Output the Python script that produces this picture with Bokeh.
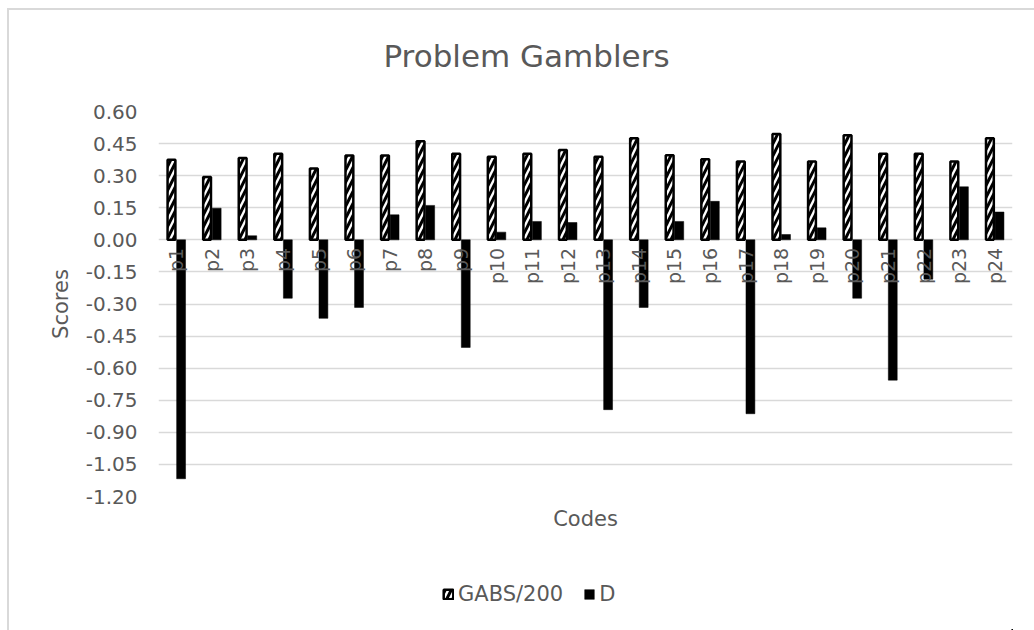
from math import pi

from bokeh.core.properties import value
from bokeh.embed import file_html
from bokeh.layouts import column
from bokeh.models import (ColumnDataSource, FixedTicker, Label, Legend, LegendItem,
                          NumeralTickFormatter, Range1d)
from bokeh.plotting import figure
from bokeh.resources import INLINE
from bokeh.transform import dodge

# Participant codes and their scores
codes = ["p1", "p2", "p3", "p4", "p5", "p6", "p7", "p8", "p9", "p10", "p11", "p12",
         "p13", "p14", "p15", "p16", "p17", "p18", "p19", "p20", "p21", "p22", "p23", "p24"]
gabs_200 = [0.375, 0.294, 0.383, 0.402, 0.333, 0.394, 0.394, 0.461, 0.402, 0.389, 0.402, 0.420,
            0.389, 0.475, 0.395, 0.377, 0.366, 0.495, 0.366, 0.489, 0.402, 0.402, 0.366, 0.475]
d_scores = [-1.117, 0.148, 0.019, -0.273, -0.367, -0.316, 0.117, 0.161, -0.503, 0.036, 0.086, 0.081,
            -0.794, -0.316, 0.086, 0.180, -0.813, 0.025, 0.056, -0.273, -0.656, -0.184, 0.248, 0.130]
y_ticks = [-1.20, -1.05, -0.90, -0.75, -0.60, -0.45, -0.30, -0.15, 0.00, 0.15, 0.30, 0.45, 0.60]

FONT = "DejaVu Sans"
GREY = "#595959"
GRID = "#d9d9d9"
W = 1025

GABS_STYLE = dict(fill_color="white", line_color="black", line_width=2.5,
                  hatch_pattern="/", hatch_color="black", hatch_weight=3, hatch_scale=12)
D_STYLE = dict(fill_color="black", line_color="black", line_width=0.5)

source = ColumnDataSource(dict(code=codes, gabs=gabs_200, d=d_scores))


def strip(height, y_range):
    """A bare figure used as a band of text above or below the chart."""
    f = figure(width=W, height=height, x_range=codes, y_range=y_range,
               output_backend="svg", toolbar_location=None, min_border=0)
    f.axis.visible = False
    f.grid.visible = False
    f.outline_line_color = None
    f.border_fill_color = "white"
    f.background_fill_color = "white"
    return f


# ---- title band -------------------------------------------------------------
top = strip(81, Range1d(0, 1))
top.add_layout(Label(x=368, y=36, x_units="screen", y_units="screen", text="Problem Gamblers",
                     text_align="center", text_baseline="middle", text_font=FONT,
                     text_font_size="31px", text_color=GREY))

# ---- main chart -------------------------------------------------------------
p = figure(x_range=codes, y_range=Range1d(-1.2, 0.6),
           width=W, height=455, output_backend="svg", toolbar_location=None,
           min_border_left=149, min_border_right=22, min_border_top=20, min_border_bottom=50)
p.outline_line_color = None
p.background_fill_color = "white"
p.border_fill_color = "white"

p.vbar(x=dodge("code", -0.135, range=p.x_range), top="gabs", bottom=0, width=0.22,
       source=source, **GABS_STYLE)
p.vbar(x=dodge("code", 0.135, range=p.x_range), top="d", bottom=0, width=0.25,
       source=source, **D_STYLE)

# category names sit just under the zero line, reading upwards
p.text(x="code", y=0, text="code", source=source, angle=pi / 2, y_offset=8,
       text_align="right", text_baseline="middle", text_font=value(FONT),
       text_font_size=value("19px"), text_color=GREY)

xax = p.xaxis[0]
xax.ticker = FixedTicker(ticks=[])
xax.axis_label = "Codes"
xax.axis_label_standoff = 10
xax.axis_label_text_font = FONT
xax.axis_label_text_font_size = "21px"
xax.axis_label_text_font_style = "normal"
xax.axis_label_text_color = GREY
xax.major_label_standoff = 0
xax.major_tick_line_color = None
xax.major_tick_out = 0
xax.axis_line_color = None
p.xgrid.visible = False

yax = p.yaxis[0]
yax.ticker = FixedTicker(ticks=y_ticks)
yax.formatter = NumeralTickFormatter(format="0.00")
yax.axis_line_color = None
yax.major_tick_line_color = None
yax.minor_tick_line_color = None
yax.major_tick_out = 0
yax.major_label_standoff = 21
yax.major_label_text_font = FONT
yax.major_label_text_font_size = "20px"
yax.major_label_text_color = GREY
yax.axis_label = "Scores"
yax.axis_label_standoff = 10
yax.axis_label_text_font = FONT
yax.axis_label_text_font_size = "21px"
yax.axis_label_text_font_style = "normal"
yax.axis_label_text_color = GREY

p.ygrid.ticker = FixedTicker(ticks=y_ticks)
p.ygrid.grid_line_color = GRID
p.ygrid.grid_line_width = 1.5

# ---- legend band ------------------------------------------------------------
# key renderers share the bar styles; they are shifted well past the band's
# right edge, so only the legend keys are visible there
leg = strip(84, Range1d(100, 101))
leg_gabs = leg.vbar(x=dodge("code", 100, range=leg.x_range), top="gabs", bottom=0,
                    width=0.22, source=source, **GABS_STYLE)
leg_d = leg.vbar(x=dodge("code", 100, range=leg.x_range), top="d", bottom=0,
                 width=0.25, source=source, **D_STYLE)

legend = Legend(items=[LegendItem(label="GABS/200", renderers=[leg_gabs]),
                       LegendItem(label="D", renderers=[leg_d])],
                location=(284, 24), orientation="horizontal")
legend.border_line_color = None
legend.background_fill_alpha = 0
legend.padding = 0
legend.margin = 0
legend.spacing = 20
legend.label_standoff = 4
legend.glyph_width = 12
legend.glyph_height = 12
legend.label_text_font = FONT
legend.label_text_font_size = "21px"
legend.label_text_color = GREY
leg.add_layout(legend, "center")

page = column(top, p, leg, spacing=0, margin=(8, 0, 0, 7),
              styles={"border-left": "2px solid #d9d9d9", "border-top": "2px solid #d9d9d9"})

open("out.html", "w").write(file_html(page, INLINE))
